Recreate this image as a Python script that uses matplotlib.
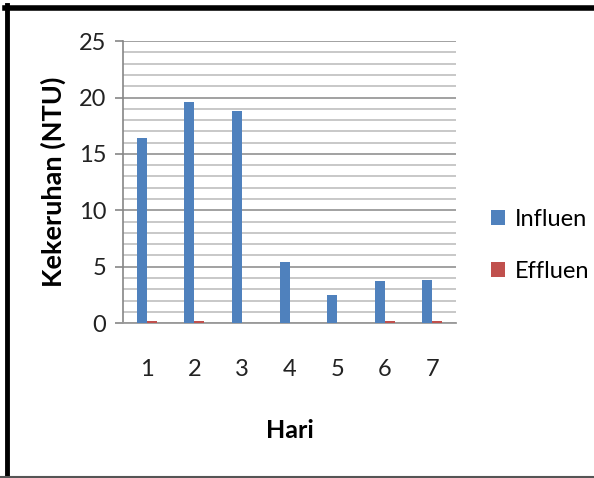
import numpy as np
import matplotlib
matplotlib.use("Agg")
import matplotlib.pyplot as plt
from matplotlib.lines import Line2D

days = ["1", "2", "3", "4", "5", "6", "7"]
influen = [16.4, 19.6, 18.8, 5.4, 2.5, 3.7, 3.8]
effluen = [0.18, 0.18, 0.0, 0.0, 0.0, 0.18, 0.18]

plt.rcParams['font.family'] = ['Lato', 'DejaVu Sans']

fig = plt.figure(figsize=(5.94, 4.78), dpi=100)
ax = fig.add_axes([0.207, 0.324, 0.561, 0.590])

x = np.arange(len(days))
w = 0.21
ax.bar(x - w / 2, influen, w, color='#4F81BD', label='Influen', zorder=3)
ax.bar(x + w / 2, effluen, w, color='#C0504D', label='Effluen', zorder=3)

ax.set_xlim(-0.5, len(days) - 0.5)
ax.set_ylim(0, 25)
ax.set_yticks(np.arange(0, 26, 5))
ax.set_yticks(np.arange(0, 26, 1), minor=True)
ax.set_xticks(x)
ax.set_xticklabels(days)

# gridlines: majors darker, minors lighter
ax.yaxis.grid(True, which='major', color='#9a9a9a', linewidth=1.3, zorder=0)
ax.yaxis.grid(True, which='minor', color='#c4c4c4', linewidth=1.3, zorder=0)
ax.set_axisbelow(True)

for s in ['top', 'right']:
    ax.spines[s].set_visible(False)
ax.spines['left'].set_color('#868686')
ax.spines['bottom'].set_color('#9a9a9a')
ax.spines['left'].set_linewidth(1.2)
ax.spines['bottom'].set_linewidth(1.3)

ax.tick_params(axis='y', which='major', length=6, color='#868686', width=1.2,
               labelsize=17, pad=6, labelcolor='#222222')
ax.tick_params(axis='y', which='minor', length=0)
ax.tick_params(axis='x', length=0, labelsize=17, pad=26, labelcolor='#222222')

ax.set_ylabel('Kekeruhan (NTU)', fontsize=19.5, fontweight='bold', labelpad=9)
ax.set_xlabel('Hari', fontsize=18, fontweight='bold', labelpad=28)

fig.legend(loc='center left', bbox_to_anchor=(0.79, 0.487), frameon=False,
           fontsize=17, handlelength=0.6, handleheight=0.6, handletextpad=0.45,
           labelspacing=1.3)

# outer frame of the picture
fig.add_artist(Line2D([0.009, 1.0], [0.984, 0.984], color='black', linewidth=4,
                      transform=fig.transFigure))
fig.add_artist(Line2D([0.0118, 0.0118], [0.0, 0.99], color='black', linewidth=3.5,
                      transform=fig.transFigure))
fig.add_artist(Line2D([0.0, 1.0], [0.003, 0.003], color='#555555', linewidth=1.5,
                      transform=fig.transFigure))

fig.savefig('out.png', dpi=100)
